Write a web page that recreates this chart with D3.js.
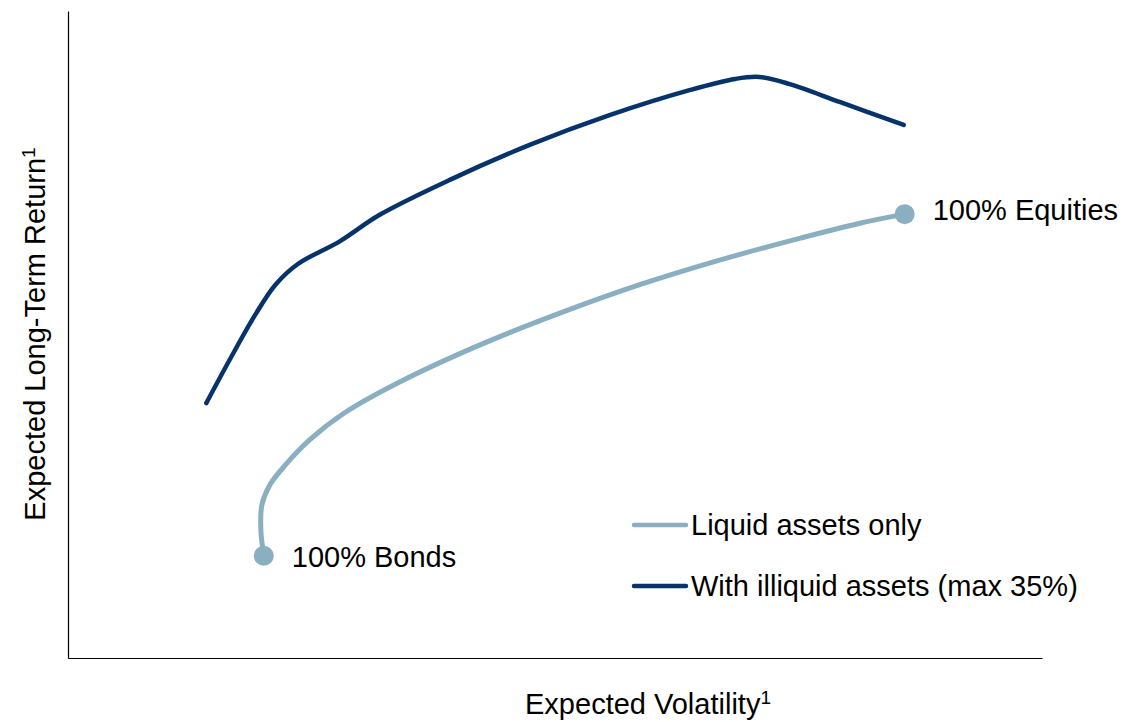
<!DOCTYPE html>
<html>
<head>
<meta charset="utf-8">
<script src="https://cdn.jsdelivr.net/npm/d3@7"></script>
<style>
  body { margin: 0; background: #fff; }
  text { font-family: "Liberation Sans", Arial, sans-serif; fill: #000; }
</style>
</head>
<body>
<div id="chart"></div>
<script>
const width = 1126;
const height = 722;

// efficient frontiers (arbitrary units 0-100)
const liquidVol = [20.1, 19.8, 19.9, 20.7, 22.3, 24.8, 28.4, 34.1, 42.3, 50.5, 58.7, 66.9, 75.2, 81.3, 85.9];
const liquidRet = [15.8, 19.8, 23.6, 26.7, 29.8, 33.7, 37.9, 42.7, 48.4, 53.3, 57.7, 61.5, 64.9, 67.2, 68.6];
const illiquidVol = [14.2, 16.6, 19.2, 21.3, 23.6, 27.9, 32.0, 39.2, 47.4, 55.6, 63.9, 68.5, 71.0, 74.1, 79.3, 85.8];
const illiquidRet = [39.4, 46.1, 53.0, 57.7, 60.9, 64.4, 68.5, 73.9, 79.3, 83.9, 87.8, 89.5, 89.8, 88.7, 85.9, 82.4];
const seriesNames = ["Liquid assets only", "With illiquid assets (max 35%)"];
const endLabels = ["100% Bonds", "100% Equities"];

const lightBlue = "#8aafc0";
const darkBlue = "#06336a";

const svg = d3.select("#chart")
  .append("svg")
  .attr("width", width)
  .attr("height", height);

const x = d3.scaleLinear().domain([0, 100]).range([68, 1042]);
const y = d3.scaleLinear().domain([0, 100]).range([658, 11]);

// axes: plain lines, no ticks
svg.append("g")
  .attr("transform", "translate(0,658)")
  .call(d3.axisBottom(x).tickValues([]).tickSizeOuter(0))
  .select(".domain").attr("stroke", "#000").attr("stroke-width", 1.2);
svg.append("g")
  .attr("transform", "translate(68,0)")
  .call(d3.axisLeft(y).tickValues([]).tickSizeOuter(0))
  .select(".domain").attr("stroke", "#000").attr("stroke-width", 1.2);

const line = d3.line()
  .x(d => x(d[0]))
  .y(d => y(d[1]))
  .curve(d3.curveCatmullRom.alpha(0.5));

const liquid = liquidVol.map((v, i) => [v, liquidRet[i]]);
const illiquid = illiquidVol.map((v, i) => [v, illiquidRet[i]]);

svg.append("path")
  .datum(illiquid)
  .attr("d", line)
  .attr("fill", "none")
  .attr("stroke", darkBlue)
  .attr("stroke-width", 4.5)
  .attr("stroke-linecap", "round");

svg.append("path")
  .datum(liquid)
  .attr("d", line)
  .attr("fill", "none")
  .attr("stroke", lightBlue)
  .attr("stroke-width", 5)
  .attr("stroke-linecap", "round");

// end points of the liquid frontier
const ends = [liquid[0], liquid[liquid.length - 1]];
svg.selectAll("circle.end")
  .data(ends)
  .enter()
  .append("circle")
  .attr("class", "end")
  .attr("cx", d => x(d[0]))
  .attr("cy", d => y(d[1]))
  .attr("r", 10)
  .attr("fill", lightBlue);

svg.selectAll("text.end")
  .data(ends)
  .enter()
  .append("text")
  .attr("class", "end")
  .attr("x", d => x(d[0]) + 28)
  .attr("y", d => y(d[1]))
  .attr("dy", (d, i) => i === 0 ? "0.4em" : "0.2em")
  .style("font-size", "29px")
  .text((d, i) => endLabels[i]);

// legend
const legend = svg.append("g").attr("transform", "translate(634,525)");
const legendColors = [lightBlue, darkBlue];
legend.selectAll("line")
  .data(seriesNames)
  .enter()
  .append("line")
  .attr("x1", 0)
  .attr("x2", 52)
  .attr("y1", (d, i) => i * 61)
  .attr("y2", (d, i) => i * 61)
  .attr("stroke", (d, i) => legendColors[i])
  .attr("stroke-width", 4.5)
  .attr("stroke-linecap", "round");
legend.selectAll("text")
  .data(seriesNames)
  .enter()
  .append("text")
  .attr("x", 57)
  .attr("y", (d, i) => i * 61)
  .attr("dy", "0.36em")
  .style("font-size", "29px")
  .text(d => d);

// axis titles
const xt = svg.append("text")
  .attr("x", 648)
  .attr("y", 714)
  .attr("text-anchor", "middle")
  .style("font-size", "29px");
xt.append("tspan").text("Expected Volatility");
xt.append("tspan").attr("dy", -10).style("font-size", "19px").text("1");

const yt = svg.append("text")
  .attr("transform", "translate(45,334) rotate(-90)")
  .attr("text-anchor", "middle")
  .style("font-size", "29px");
yt.append("tspan").text("Expected Long-Term Return");
yt.append("tspan").attr("dy", -10).style("font-size", "19px").text("1");
</script>
</body>
</html>
